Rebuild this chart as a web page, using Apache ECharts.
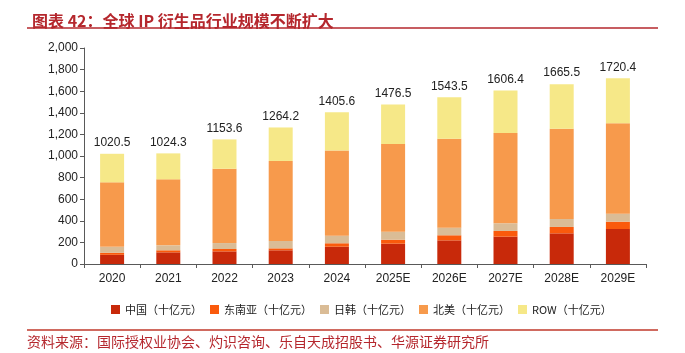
<!DOCTYPE html>
<html>
<head>
<meta charset="utf-8">
<script src="https://cdn.jsdelivr.net/npm/echarts@6/dist/echarts.min.js"></script>
<style>
html, body { margin: 0; padding: 0; background: #fff; }
#myChart { width: 685px; height: 353px; }
</style>
</head>
<body>
<div id="myChart"></div>
<script>
var years = ['2020', '2021', '2022', '2023', '2024', '2025E', '2026E', '2027E', '2028E', '2029E'];
var china = [85, 108, 117, 127, 160, 188, 219, 253, 284, 324];
var sea = [19, 19, 22, 18, 32, 37, 47, 53, 59, 68];
var japanKorea = [55, 46, 55, 68, 70, 74, 70, 71, 74, 74];
var northAmerica = [597, 611, 688, 741, 789, 812, 824, 836, 836, 837];
var totals = [1020.5, 1024.3, 1153.6, 1264.2, 1405.6, 1476.5, 1543.5, 1606.4, 1665.5, 1720.4];
var yTicks = [0, 200, 400, 600, 800, 1000, 1200, 1400, 1600, 1800, 2000];

// ROW 为总量减去其它地区
var row = totals.map(function (t, i) {
    return +(t - china[i] - sea[i] - japanKorea[i] - northAmerica[i]).toFixed(1);
});

function _initChart() {
    var myChart = echarts.init(document.getElementById('myChart'));
    var font = 'Liberation Sans, Arial, sans-serif';
    var names = ['中国（十亿元）', '东南亚（十亿元）', '日韩（十亿元）', '北美（十亿元）', 'ROW（十亿元）'];
    var colors = ['#c8290a', '#fa5a0c', '#dabc96', '#f79a4c', '#f6e888'];
    var datas = [china, sea, japanKorea, northAmerica, row];

    var series = datas.map(function (d, i) {
        var s = {
            name: names[i],
            type: 'bar',
            stack: 'total',
            barWidth: 24,
            data: d,
            itemStyle: {color: colors[i]}
        };
        if (i === datas.length - 1) {
            s.label = {
                show: true,
                position: 'top',
                distance: 5,
                color: '#222',
                fontSize: 12,
                fontFamily: font,
                formatter: function (p) { return totals[p.dataIndex].toFixed(1); }
            };
        }
        return s;
    });

    var option = {
        animation: false,
        color: colors,
        title: {
            text: '图表 42：全球 IP 衍生品行业规模不断扩大',
            left: 27,
            top: 8,
            textStyle: {
                color: '#b5272d',
                fontSize: 16,
                fontWeight: 'bold',
                fontFamily: 'Noto Sans CJK SC'
            }
        },
        graphic: [
            {
                type: 'line',
                shape: {x1: 27, y1: 28, x2: 658, y2: 28},
                style: {stroke: '#b5272d', lineWidth: 1.5}
            },
            {
                type: 'line',
                shape: {x1: 27, y1: 330, x2: 658, y2: 330},
                style: {stroke: '#c0392b', lineWidth: 1.5}
            },
            {
                type: 'text',
                left: 27,
                top: 335,
                style: {
                    text: '资料来源：国际授权业协会、灼识咨询、乐自天成招股书、华源证券研究所',
                    fill: '#b5272d',
                    fontSize: 14,
                    fontFamily: 'Noto Sans CJK SC'
                }
            }
        ],
        legend: {
            data: names,
            left: 106,
            top: 299,
            itemWidth: 9,
            itemHeight: 9,
            itemGap: 8,
            icon: 'rect',
            textStyle: {fontSize: 11, color: '#222', fontFamily: 'Noto Sans CJK SC'}
        },
        grid: {left: 84, right: 39, top: 48, bottom: 89},
        xAxis: {
            type: 'category',
            data: years,
            axisLine: {lineStyle: {color: '#595959'}},
            axisTick: {show: true, length: 4, lineStyle: {color: '#595959'}},
            axisLabel: {color: '#222', fontSize: 12, fontFamily: font, margin: 9}
        },
        yAxis: {
            type: 'value',
            min: yTicks[0],
            max: yTicks[yTicks.length - 1],
            interval: 200,
            splitLine: {show: false},
            axisLine: {show: true, lineStyle: {color: '#595959'}},
            axisTick: {show: true, length: 4, lineStyle: {color: '#595959'}},
            axisLabel: {
                color: '#222',
                fontSize: 12,
                fontFamily: font,
                margin: 6,
                formatter: function (v) { return v.toLocaleString('en-US'); }
            }
        },
        series: series
    };
    myChart.setOption(option);
}

_initChart();
</script>
</body>
</html>
